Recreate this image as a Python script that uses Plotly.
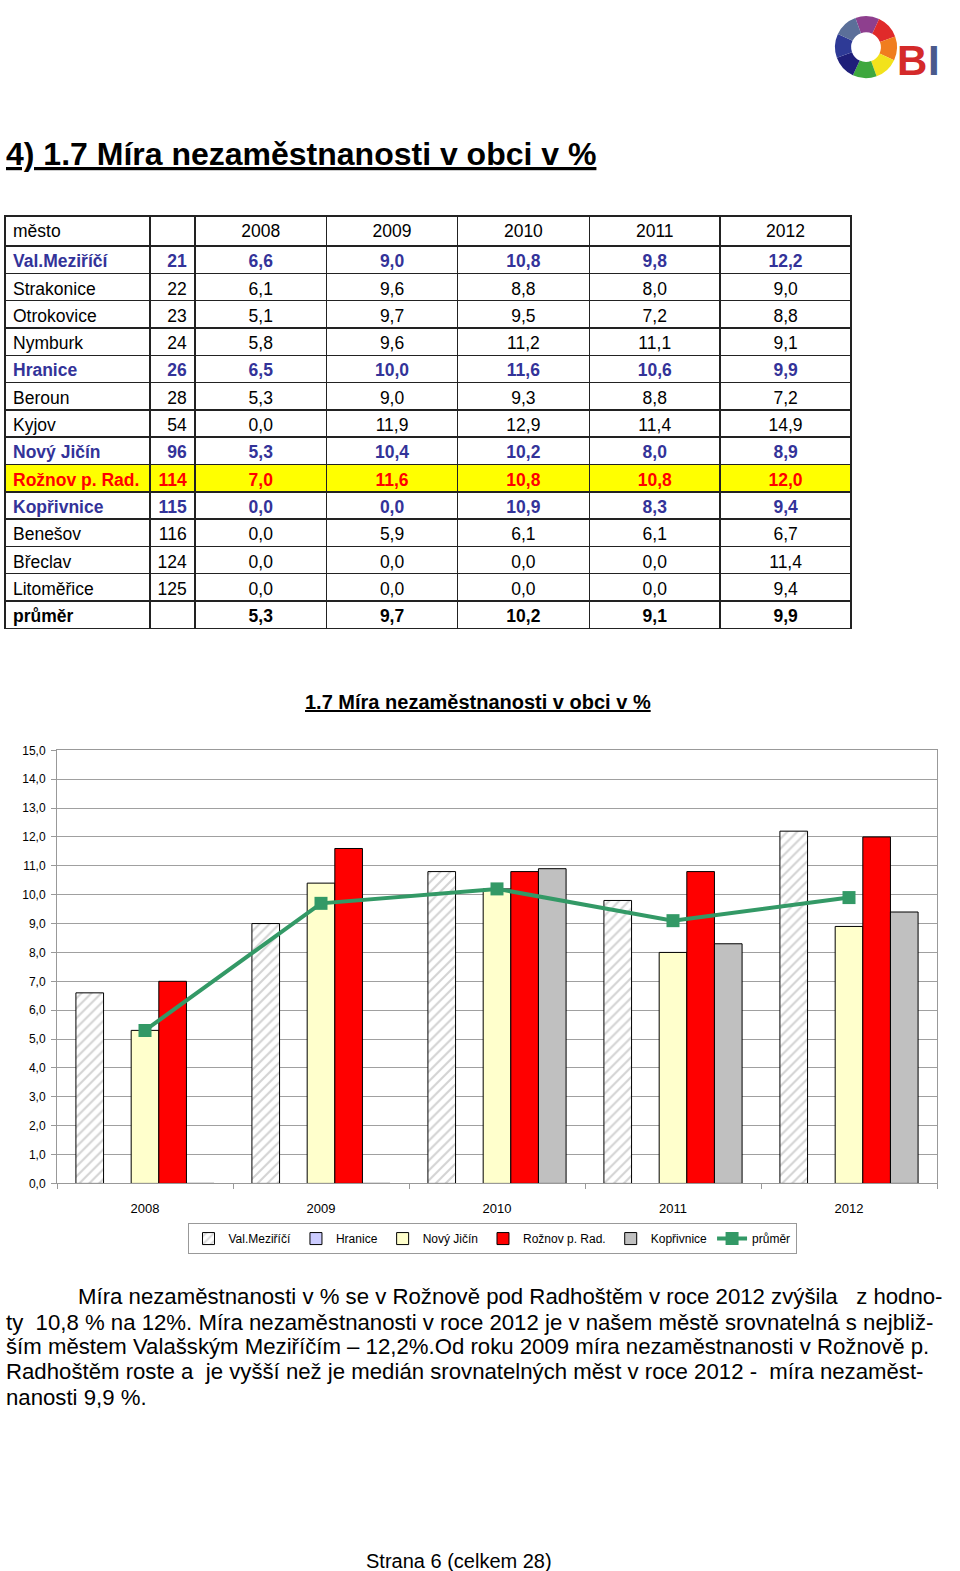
import plotly.graph_objects as go
import plotly.io as pio

# ---------------- data ----------------
mesta = ["Val.Meziříčí", "Strakonice", "Otrokovice", "Nymburk", "Hranice", "Beroun", "Kyjov",
         "Nový Jičín", "Rožnov p. Rad.", "Kopřivnice", "Benešov", "Břeclav", "Litoměřice", "průměr"]
poradi = [21, 22, 23, 24, 26, 28, 54, 96, 114, 115, 116, 124, 125, None]
roky = ["2008", "2009", "2010", "2011", "2012"]
r2008 = [6.6, 6.1, 5.1, 5.8, 6.5, 5.3, 0.0, 5.3, 7.0, 0.0, 0.0, 0.0, 0.0, 5.3]
r2009 = [9.0, 9.6, 9.7, 9.6, 10.0, 9.0, 11.9, 10.4, 11.6, 0.0, 5.9, 0.0, 0.0, 9.7]
r2010 = [10.8, 8.8, 9.5, 11.2, 11.6, 9.3, 12.9, 10.2, 10.8, 10.9, 6.1, 0.0, 0.0, 10.2]
r2011 = [9.8, 8.0, 7.2, 11.1, 10.6, 8.8, 11.4, 8.0, 10.8, 8.3, 6.1, 0.0, 0.0, 9.1]
r2012 = [12.2, 9.0, 8.8, 9.1, 9.9, 7.2, 14.9, 8.9, 12.0, 9.4, 6.7, 11.4, 9.4, 9.9]

# chart series (as drawn in the chart)
val_mezirici = [6.6, 9.0, 10.8, 9.8, 12.2]
hranice = [None, None, None, None, None]   # no Hranice bars are drawn in the chart
novy_jicin = [5.3, 10.4, 10.2, 8.0, 8.9]
roznov = [7.0, 11.6, 10.8, 10.8, 12.0]
koprivnice = [0.0, 0.0, 10.9, 8.3, 9.4]
prumer = [5.3, 9.7, 10.2, 9.1, 9.9]

logo_segments = [1, 1, 1, 1, 1, 1, 1, 1]

text_lines = [
    "Míra nezaměstnanosti v % se v Rožnově pod Radhoštěm v roce 2012 zvýšila &nbsp; z hodno-",
    "ty &nbsp;10,8 % na 12%. Míra nezaměstnanosti v roce 2012 je v našem městě srovnatelná s nejbliž-",
    "ším městem Valašským Meziříčím – 12,2%.Od roku 2009 míra nezaměstnanosti v Rožnově p.",
    "Radhoštěm roste a &nbsp;je vyšší než je medián srovnatelných měst v roce 2012 - &nbsp;míra nezaměst-",
    "nanosti 9,9 %.",
]

# ---------------- helpers ----------------
W, H = 960, 1571
def px(x):
    return x / W
def py(y):
    return 1 - y / H

ARIAL = "Liberation Sans, Arial, sans-serif"

def fmt(v):
    return f"{v:.1f}".replace(".", ",")

BLUE = "#333399"
RED = "#ff0000"
row_style = {0: "blue", 4: "blue", 7: "blue", 8: "red", 9: "blue", 13: "bold"}

# non-breaking spaces keep each town name on one line in its cell
cols = [[m.replace(" ", "\u00a0") for m in mesta],
        [("" if p is None else str(p)) for p in poradi]] + \
       [[fmt(v) for v in col] for col in (r2008, r2009, r2010, r2011, r2012)]
font_cols, fill_cols, weight_cols = [], [], []
for col in cols:
    fcs, fills, wts = [], [], []
    for i, _ in enumerate(col):
        st = row_style.get(i)
        fcs.append(BLUE if st == "blue" else (RED if st == "red" else "black"))
        fills.append("#ffff00" if st == "red" else "white")
        wts.append(700 if st else 400)
    font_cols.append(fcs)
    fill_cols.append(fills)
    weight_cols.append(wts)

fig = go.Figure()

# ---------------- table ----------------
fig.add_trace(go.Table(
    domain=dict(x=[px(5), px(852)], y=[py(632), py(211)]),
    columnwidth=[145, 45, 132, 131, 132, 131, 131],
    header=dict(values=["město", ""] + roky,
                align=["left", "center", "center", "center", "center", "center", "center"],
                font=dict(family=ARIAL, size=17.5, color="black"),
                fill=dict(color="white"),
                line=dict(color="#222222", width=1.5),
                height=30),
    cells=dict(values=cols,
               align=["left", "right", "center", "center", "center", "center", "center"],
               font=dict(family=ARIAL, size=17.5, color=font_cols),
               fill=dict(color=fill_cols),
               line=dict(color="#222222", width=1.5),
               height=27.3),
))

# ---------------- chart ----------------
bar_line = dict(color="black", width=1)
fig.add_trace(go.Bar(x=roky, y=val_mezirici, name="Val.Meziříčí",
                     marker=dict(color="white", line=bar_line,
                                 pattern=dict(shape="/", fgcolor="#a8a8a8", bgcolor="white",
                                              size=7, solidity=0.3))))
fig.add_trace(go.Bar(x=roky, y=hranice, name="Hranice",
                     marker=dict(color="#ccccff", line=bar_line)))
fig.add_trace(go.Bar(x=roky, y=novy_jicin, name="Nový Jičín",
                     marker=dict(color="#ffffcc", line=bar_line)))
fig.add_trace(go.Bar(x=roky, y=roznov, name="Rožnov p. Rad.",
                     marker=dict(color="#ff0000", line=bar_line)))
fig.add_trace(go.Bar(x=roky, y=koprivnice, name="Kopřivnice",
                     marker=dict(color="#c0c0c0", line=bar_line)))
fig.add_trace(go.Scatter(x=roky, y=prumer, name="průměr", mode="lines+markers",
                         line=dict(color="#339966", width=4),
                         marker=dict(symbol="square", size=13, color="#339966")))

# ---------------- logo ----------------
fig.add_trace(go.Pie(values=logo_segments, hole=0.48, sort=False, direction="clockwise",
                     rotation=-20, textinfo="none", hoverinfo="skip", showlegend=False,
                     marker=dict(colors=["#8e3f8e", "#e02a2a", "#f07d1e", "#f2e21c",
                                         "#3ea83e", "#1f1f7a", "#2e3a96", "#5b6f99"],
                                 line=dict(width=0)),
                     domain=dict(x=[px(835), px(897)], y=[py(72), py(9)])))

fig.update_layout(
    width=W, height=H,
    margin=dict(l=0, r=0, t=0, b=0),
    paper_bgcolor="white", plot_bgcolor="white",
    separators=", ",
    barmode="group", bargap=0.215, bargroupgap=0,
    showlegend=True,
    legend=dict(orientation="h", x=px(492), xanchor="center", y=py(1227), yanchor="top",
                bordercolor="#999999", borderwidth=1,
                font=dict(family=ARIAL, size=12, color="black"),
                itemwidth=30, tracegroupgap=0, traceorder="normal"),
    xaxis=dict(domain=[px(57), px(937)], type="category", showgrid=False,
               showline=True, linecolor="#999999", mirror=True,
               ticks="outside", tickson="boundaries", ticklen=5, tickcolor="#999999",
               ticklabelstandoff=13,
               tickfont=dict(family=ARIAL, size=13, color="black")),
    yaxis=dict(domain=[py(1187), py(750)], range=[0, 15], dtick=1, tickformat=".1f",
               showgrid=True, gridcolor="#a0a0a0", gridwidth=1,
               showline=True, linecolor="#999999", mirror=True,
               ticks="outside", ticklen=5, tickcolor="#999999", ticklabelstandoff=3,
               tickfont=dict(family=ARIAL, size=12, color="black"), zeroline=False),
    font=dict(family=ARIAL),
)

annotations = [
    dict(text="<u><b>4) 1.7 Míra nezaměstnanosti v obci v %</b></u>", x=px(4), y=py(148),
         xanchor="left", yanchor="middle", font=dict(family=ARIAL, size=32, color="black")),
    dict(text="<u><b>1.7 Míra nezaměstnanosti v obci v %</b></u>", x=px(478), y=py(701),
         xanchor="center", yanchor="middle", font=dict(family=ARIAL, size=20, color="black")),
    dict(text="<b>B</b>", x=px(912), y=py(54), xanchor="center", yanchor="middle",
         font=dict(family=ARIAL, size=42, color="#d42a2a")),
    dict(text="<b>I</b>", x=px(934), y=py(54), xanchor="center", yanchor="middle",
         font=dict(family=ARIAL, size=42, color="#4a5a8c")),
    dict(text="Strana 6 (celkem 28)", x=px(459), y=py(1568), xanchor="center", yanchor="middle",
         font=dict(family=ARIAL, size=20, color="black")),
]
line_y = [1301, 1327, 1352, 1377, 1403]
for i, (t, ly) in enumerate(zip(text_lines, line_y)):
    annotations.append(dict(text=t, x=px(76 if i == 0 else 4), y=py(ly), xanchor="left",
                            yanchor="middle", font=dict(family=ARIAL, size=22.2, color="black")))
for a in annotations:
    a.update(xref="paper", yref="paper", showarrow=False)
fig.update_layout(annotations=annotations)

# per-cell bold weights (2D) are accepted by plotly.js but not by the Python validator
fig_dict = fig.to_dict()
fig_dict["data"][0]["cells"]["font"]["weight"] = weight_cols
pio.write_html(fig_dict, "out.html", validate=False)
